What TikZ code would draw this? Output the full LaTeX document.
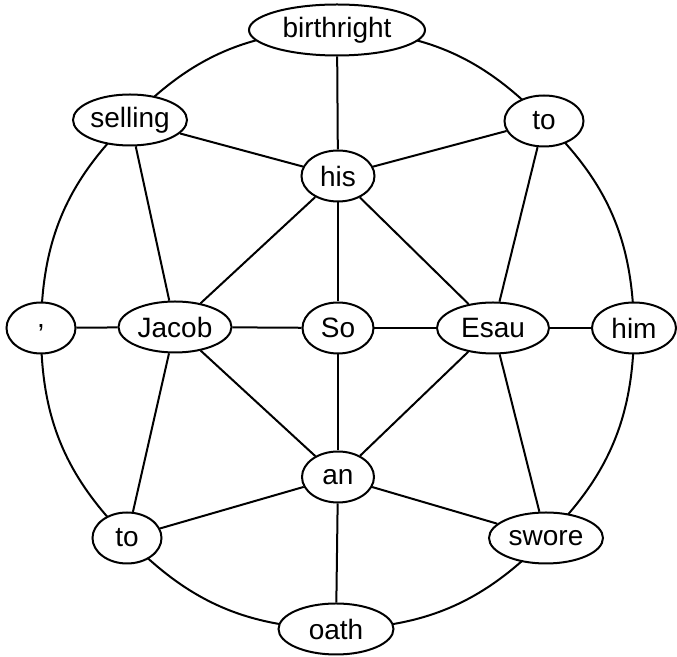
\documentclass[tikz,border=0pt]{standalone}
\usepackage{fontspec}
\setmainfont{Liberation Sans}
\usepackage{tikz}
\usetikzlibrary{shapes.geometric, backgrounds}
\tikzset{
	word/.style={ellipse, draw, fill=white, line width=1pt, inner sep=0pt, minimum height=25.5pt, font=\fontsize{14}{16}\selectfont}, % every word is an ellipse
	link/.style={line width=1pt}, % plain undirected edges
	ring/.style={bend right=22.5}, % edges on the outer circle, centre to centre
}
\begin{document}
\begin{tikzpicture}[x=0.5pt, y=-0.5pt]
		\useasboundingbox (0,0) rectangle (677,657);
		% words on the outer circle
		\node[word, minimum width=88pt] (birthright) at (337,30) {birthright};
		\node[word, minimum width=57pt] (selling) at (130,120) {selling};
		\node[word, minimum width=39.5pt] (toA) at (544,121) {to};
		\node[word, minimum width=34.5pt] (comma) at (41,328) {,};
		\node[word, minimum width=42pt] (him) at (634,328) {him};
		\node[word, minimum width=34.5pt] (toB) at (127,538) {to};
		\node[word, minimum width=57pt] (swore) at (546,538) {swore};
		\node[word, minimum width=57.5pt] (oath) at (336,629) {oath};
		% inner words
		\node[word, minimum width=36.5pt] (his) at (338,176) {his};
		\node[word, minimum width=56.5pt] (Jacob) at (175,327) {Jacob};
		\node[word, minimum width=35.5pt] (So) at (338,328) {So};
		\node[word, minimum width=56pt] (Esau) at (493,328) {Esau};
		\node[word, minimum width=36pt] (an) at (338,477) {an};
		
		\begin{scope}[on background layer]
		\draw[link] (birthright.center) to[ring] (selling.center);
		\draw[link] (selling.center) to[ring] (comma.center);
		\draw[link] (comma.center) to[ring] (toB.center);
		\draw[link] (toB.center) to[ring] (oath.center);
		\draw[link] (oath.center) to[ring] (swore.center);
		\draw[link] (swore.center) to[ring] (him.center);
		\draw[link] (him.center) to[ring] (toA.center);
		\draw[link] (toA.center) to[ring] (birthright.center);
		\end{scope}
		
		\draw[link] (birthright) -- (his);
		\draw[link] (selling) -- (his);
		\draw[link] (toA) -- (his);
		\draw[link] (selling) -- (Jacob);
		\draw[link] (toA) -- (Esau);
		\draw[link] (his) -- (Jacob);
		\draw[link] (his) -- (So);
		\draw[link] (his) -- (Esau);
		\draw[link] (comma) -- (Jacob);
		\draw[link] (Jacob) -- (So);
		\draw[link] (So) -- (Esau);
		\draw[link] (Esau) -- (him);
		\draw[link] (Jacob) -- (an);
		\draw[link] (So) -- (an);
		\draw[link] (Esau) -- (an);
		\draw[link] (Jacob) -- (toB);
		\draw[link] (Esau) -- (swore);
		\draw[link] (an) -- (toB);
		\draw[link] (an) -- (swore);
		\draw[link] (an) -- (oath);
\end{tikzpicture}
\end{document}
